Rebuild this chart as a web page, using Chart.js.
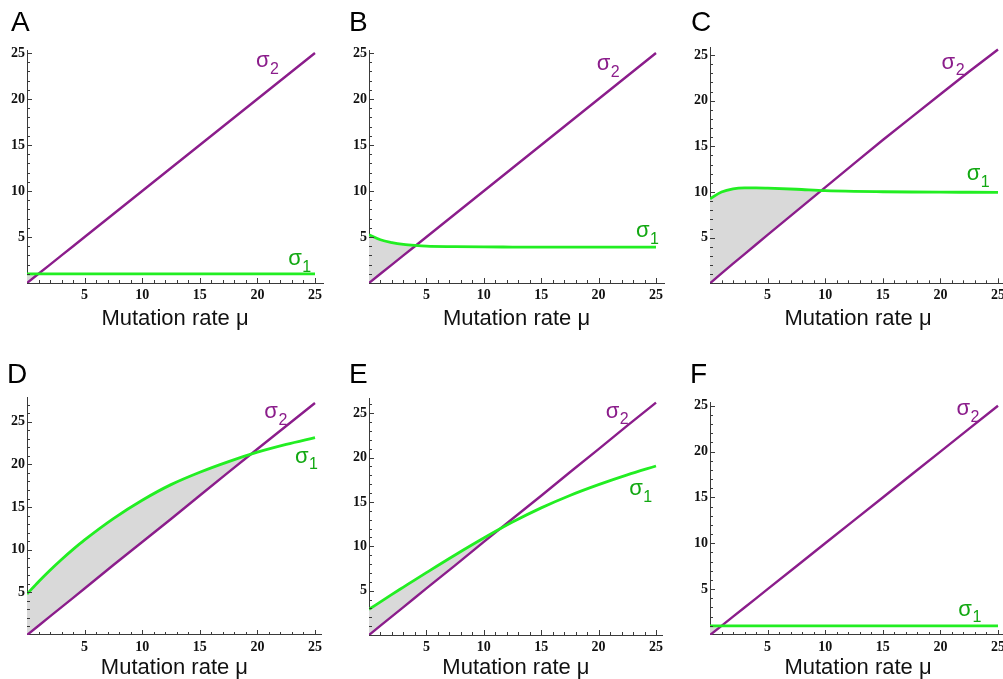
<!DOCTYPE html>
<html>
<head>
<meta charset="utf-8">
<script src="https://cdn.jsdelivr.net/npm/chart.js@4.4.0/dist/chart.umd.min.js"></script>
<style>
html, body { margin: 0; padding: 0; background: #fff; overflow: hidden; width: 1003px; height: 679px; position: relative; }
canvas { position: absolute; }
.letter { position: absolute; font-family: 'Liberation Sans', Arial, sans-serif; font-size: 28px; line-height: 28px; color: #000; }
</style>
</head>
<body>
<script>
// mutation rate samples shared by every panel
const mu = [0, 1, 2, 3, 4, 5, 7.5, 10, 12.5, 15, 17.5, 20, 22.5, 25]

const sigma1A = [1, 1, 1, 1, 1, 1, 1, 1, 1, 1, 1, 1, 1, 1]
const sigma2A = [0, 1, 2, 3, 4, 5, 7.5, 10, 12.5, 15, 17.5, 20, 22.5, 25]

const sigma1B = [5.25, 4.7, 4.4, 4.2, 4.08, 4.0, 3.95, 3.92, 3.91, 3.9, 3.9, 3.9, 3.9, 3.9]
const sigma2B = [0, 1, 2, 3, 4, 5, 7.5, 10, 12.5, 15, 17.5, 20, 22.5, 25]

const sigma1C = [9.25, 10.0, 10.35, 10.45, 10.45, 10.42, 10.3, 10.15, 10.07, 10.03, 10.0, 9.98, 9.97, 9.96]
const sigma2C = [0, 1.08, 2.15, 3.2, 4.25, 5.3, 7.9, 10.5, 13.1, 15.7, 18.2, 20.7, 23.2, 25.6]

const sigma1D = [4.8, 6.25, 7.6, 8.86, 10.04, 11.15, 13.65, 15.8, 17.63, 19.08, 20.33, 21.43, 22.35, 23.15]
const sigma2D = [0, 1.09, 2.18, 3.27, 4.36, 5.45, 8.2, 10.9, 13.6, 16.35, 19.1, 21.8, 24.5, 27.2]

const sigma1E = [2.9, 3.74, 4.58, 5.4, 6.22, 7.03, 9.02, 10.93, 12.73, 14.33, 15.73, 16.95, 18.05, 19.05]
const sigma2E = [0, 1.05, 2.1, 3.15, 4.2, 5.25, 7.85, 10.5, 13.1, 15.7, 18.35, 20.95, 23.6, 26.2]

const sigma1F = [1, 1, 1, 1, 1, 1, 1, 1, 1, 1, 1, 1, 1, 1]
const sigma2F = [0, 1, 2, 3, 4, 5, 7.5, 10, 12.5, 15, 17.5, 20, 22.5, 25]

const panelNames = ['A', 'B', 'C', 'D', 'E', 'F']
const xTickValues = [5, 10, 15, 20, 25]
const yTickValues = [5, 10, 15, 20, 25]
const xTitle = 'Mutation rate μ'

const PURPLE = '#8b1d8b'
const GREEN = '#22ee22'
const GREEN_TEXT = '#12a812'
const SHADE = '#d9d9d9'

// layout of each panel in page pixels (origin, pixels per unit, axis extents)
const panels = [
    { s1: sigma1A, s2: sigma2A, px0: 27,  py0: 283,   ux: 11.52, uy: 9.2,  xmax: 25.7, ymax: 25.3, hx: 47, letter: [11, 8],
      labels: [{ sub: '2', x: 19.88, y: 23.45, c: PURPLE }, { sub: '1', x: 22.68, y: 1.96, c: GREEN_TEXT }] },
    { s1: sigma1B, s2: sigma2B, px0: 369, py0: 283,   ux: 11.48, uy: 9.2,  xmax: 25.7, ymax: 25.3, hx: 47, letter: [349, 8],
      labels: [{ sub: '2', x: 19.83, y: 23.1, c: PURPLE }, { sub: '1', x: 23.26, y: 4.97, c: GREEN_TEXT }] },
    { s1: sigma1C, s2: sigma2C, px0: 710, py0: 283.3, ux: 11.52, uy: 9.13, xmax: 25.7, ymax: 25.8, hx: 47, letter: [691, 8],
      labels: [{ sub: '2', x: 20.1, y: 23.5, c: PURPLE }, { sub: '1', x: 22.28, y: 11.3, c: GREEN_TEXT }] },
    { s1: sigma1D, s2: sigma2D, px0: 27,  py0: 635,   ux: 11.52, uy: 8.53, xmax: 25.6, ymax: 27.8, hx: 44, letter: [7, 359.5],
      labels: [{ sub: '2', x: 20.6, y: 25.4, c: PURPLE }, { sub: '1', x: 23.26, y: 20.2, c: GREEN_TEXT }] },
    { s1: sigma1E, s2: sigma2E, px0: 369, py0: 635,   ux: 11.48, uy: 8.87, xmax: 25.6, ymax: 26.7, hx: 44, letter: [349, 359.5],
      labels: [{ sub: '2', x: 20.62, y: 24.5, c: PURPLE }, { sub: '1', x: 22.67, y: 15.8, c: GREEN_TEXT }] },
    { s1: sigma1F, s2: sigma2F, px0: 710, py0: 635,   ux: 11.52, uy: 9.17, xmax: 25.7, ymax: 25.4, hx: 44, letter: [690, 359.5],
      labels: [{ sub: '2', x: 21.4, y: 24.0, c: PURPLE }, { sub: '1', x: 21.56, y: 2.1, c: GREEN_TEXT }] }
]

const WY = 30, PT = 14, PR = 12

// minor/major tick marks pointing into the plot, plus the sigma labels
const makeDecor = (labels) => ({
    id: 'decor',
    afterDatasetsDraw(chart) {
        const { ctx, scales: { x, y } } = chart
        const x0 = x.getPixelForValue(0), y0 = y.getPixelForValue(0)
        ctx.save()
        ctx.strokeStyle = '#3a3a3a'
        ctx.lineWidth = 1
        ctx.beginPath()
        for (let v = 1; v <= x.max; v++) {
            const px = Math.round(x.getPixelForValue(v)) + 0.5
            const len = v % 5 === 0 ? 5 : 3
            ctx.moveTo(px, y0); ctx.lineTo(px, y0 - len)
        }
        for (let v = 1; v <= y.max; v++) {
            const py = Math.round(y.getPixelForValue(v)) + 0.5
            const len = v % 5 === 0 ? 5 : 3
            ctx.moveTo(x0, py); ctx.lineTo(x0 + len, py)
        }
        ctx.stroke()
        ctx.textBaseline = 'alphabetic'
        ctx.textAlign = 'left'
        labels.forEach(l => {
            const lx = x.getPixelForValue(l.x), ly = y.getPixelForValue(l.y)
            ctx.fillStyle = l.c
            ctx.font = '22px "Liberation Sans", Arial, sans-serif'
            ctx.fillText('σ', lx, ly)
            const w = ctx.measureText('σ').width
            ctx.font = '16px "Liberation Sans", Arial, sans-serif'
            ctx.fillText(l.sub, lx + w + 0.5, ly + 6.7)
        })
        ctx.restore()
    }
})

panels.forEach((p, i) => {
    const areaW = p.xmax * p.ux, areaH = p.ymax * p.uy
    const top = p.py0 - areaH
    const cl = p.px0 - WY
    const ct = Math.floor(top - PT)
    const padTop = top - ct
    const cw = Math.round(WY + areaW + PR)
    const padRight = cw - WY - areaW
    const ch = Math.round(padTop + areaH + p.hx)
    const hx = ch - padTop - areaH

    const canvas = document.createElement('canvas')
    canvas.width = cw
    canvas.height = ch
    canvas.style.left = cl + 'px'
    canvas.style.top = ct + 'px'
    canvas.style.width = cw + 'px'
    canvas.style.height = ch + 'px'
    document.body.appendChild(canvas)

    const letter = document.createElement('div')
    letter.className = 'letter'
    letter.textContent = panelNames[i]
    letter.style.left = p.letter[0] + 'px'
    letter.style.top = p.letter[1] + 'px'
    document.body.appendChild(letter)

    const tickFont = { family: '"Liberation Serif", "Times New Roman", serif', weight: 'bold', size: 14 }

    try {
        new Chart(canvas, {
            type: 'line',
            data: {
                datasets: [{
                    label: 'σ1',
                    data: mu.map((m, k) => ({ x: m, y: p.s1[k] })),
                    borderColor: GREEN,
                    borderWidth: 2.8,
                    cubicInterpolationMode: 'monotone',
                    pointRadius: 0,
                    fill: { target: 1, above: SHADE, below: 'rgba(0,0,0,0)' }
                }, {
                    label: 'σ2',
                    data: mu.map((m, k) => ({ x: m, y: p.s2[k] })),
                    borderColor: PURPLE,
                    borderWidth: 2.4,
                    tension: 0,
                    pointRadius: 0,
                    fill: false
                }]
            },
            options: {
                responsive: false,
                animation: false,
                devicePixelRatio: 1,
                layout: { padding: { top: padTop, right: padRight, left: 0, bottom: 0 } },
                plugins: {
                    legend: { display: false },
                    tooltip: { enabled: false },
                    filler: { drawTime: 'beforeDatasetsDraw' }
                },
                scales: {
                    x: {
                        type: 'linear',
                        min: 0,
                        max: p.xmax,
                        afterBuildTicks: s => { s.ticks = xTickValues.map(v => ({ value: v })) },
                        afterFit: s => { s.height = hx },
                        grid: { drawOnChartArea: false, drawTicks: false },
                        border: { display: true, color: '#3a3a3a', width: 1 },
                        ticks: { font: tickFont, color: '#111', padding: 4, maxRotation: 0, autoSkip: false },
                        title: {
                            display: true,
                            text: xTitle,
                            color: '#111',
                            padding: 0,
                            font: { family: '"Liberation Sans", Arial, sans-serif', size: 22, lineHeight: 1 }
                        }
                    },
                    y: {
                        type: 'linear',
                        min: 0,
                        max: p.ymax,
                        afterBuildTicks: s => { s.ticks = yTickValues.map(v => ({ value: v })) },
                        afterFit: s => { s.width = WY },
                        grid: { drawOnChartArea: false, drawTicks: false },
                        border: { display: true, color: '#3a3a3a', width: 1 },
                        ticks: { font: tickFont, color: '#111', padding: 2, autoSkip: false }
                    }
                }
            },
            plugins: [makeDecor(p.labels)]
        })
    } catch (e) {
        console.log(e)
    }
})
</script>
</body>
</html>
